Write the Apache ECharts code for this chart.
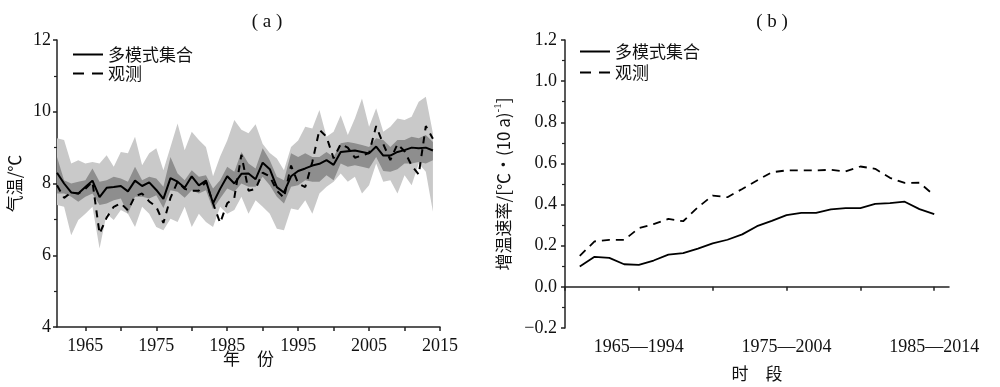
<!DOCTYPE html>
<html><head><meta charset="utf-8">
<script src="https://cdn.jsdelivr.net/npm/echarts@6/dist/echarts.min.js"></script>
<style>html,body{margin:0;padding:0;background:#fff}#c{width:1000px;height:387px}</style>
</head><body><div id="c"></div>
<script>
// ---------- Panel (a) data: annual mean temperature (°C), 1961-2014 ----------
const years = [1961,1962,1963,1964,1965,1966,1967,1968,1969,1970,1971,1972,1973,1974,1975,1976,1977,1978,1979,1980,
  1981,1982,1983,1984,1985,1986,1987,1988,1989,1990,1991,1992,1993,1994,1995,1996,1997,1998,1999,2000,
  2001,2002,2003,2004,2005,2006,2007,2008,2009,2010,2011,2012,2013,2014];
const ensembleMean = [8.30,8.00,7.75,7.72,7.90,8.08,7.62,7.88,7.90,7.93,7.78,8.08,7.93,8.03,7.82,7.57,8.15,8.05,7.88,8.20,
  7.95,8.08,7.45,7.85,8.20,8.00,8.27,8.28,8.12,8.58,8.40,7.90,7.75,8.20,8.35,8.42,8.50,8.55,8.65,8.52,
  8.88,8.90,8.92,8.88,8.84,9.03,8.78,8.78,8.88,8.93,9.00,8.98,9.00,8.92];
const observed = [7.95,7.60,7.75,7.72,7.85,8.05,6.60,7.05,7.35,7.45,7.25,7.65,7.72,7.50,7.35,6.90,7.60,8.05,7.85,7.80,
  7.80,8.05,7.45,6.90,7.45,7.60,8.80,7.80,7.85,8.30,8.20,7.80,7.60,8.50,8.00,7.90,8.60,9.50,9.30,8.70,
  9.10,9.00,8.72,8.78,8.85,9.60,9.10,8.65,9.10,8.90,8.50,8.25,9.60,9.25];
const darkUpper = [8.74,8.09,8.00,8.05,8.09,8.42,8.05,8.09,8.19,8.14,8.05,8.47,8.09,8.19,8.14,7.91,8.74,8.28,8.09,8.37,
  8.19,8.23,7.86,8.09,8.47,8.33,8.88,8.56,8.42,8.98,8.65,8.19,8.09,8.84,8.74,8.84,8.74,8.74,8.88,8.74,
  9.12,9.16,9.12,9.07,9.02,9.26,9.21,9.02,9.21,9.21,9.30,9.26,9.35,9.16];
const darkLower = [7.72,7.72,7.63,7.49,7.63,7.72,7.40,7.44,7.53,7.58,7.16,7.63,7.63,7.58,7.67,7.32,7.81,7.77,7.60,7.81,
  7.72,7.81,7.28,7.58,7.86,7.77,8.00,7.91,7.91,8.19,7.95,7.63,7.44,7.91,7.95,8.09,8.05,8.05,8.23,8.09,
  8.56,8.47,8.51,8.47,8.42,8.74,8.35,8.33,8.40,8.56,8.56,8.60,8.56,8.65];
const lightUpper = [9.26,9.21,8.56,8.65,8.56,8.60,8.56,8.79,8.47,8.88,8.84,9.30,8.51,8.84,8.98,8.37,9.02,9.67,8.93,9.44,
  9.21,9.02,8.20,8.75,9.20,9.77,9.50,9.40,9.65,9.10,8.85,8.70,8.37,9.02,9.20,9.58,9.53,10.05,9.30,9.44,
  9.90,9.35,9.81,10.37,9.58,10.10,9.44,9.58,9.81,9.77,9.86,10.28,10.42,9.40];
const lightLower = [7.40,7.35,6.56,6.98,7.16,7.35,6.19,7.16,6.98,7.26,7.16,6.79,7.35,7.16,6.79,6.70,7.02,6.93,7.35,6.79,
  7.16,6.93,6.79,7.35,7.16,7.26,7.63,7.16,7.53,7.35,7.16,6.74,6.70,7.30,7.26,7.53,7.16,7.72,7.91,8.05,
  8.28,8.05,8.19,7.72,7.95,8.56,8.05,8.09,7.72,8.23,7.95,8.56,8.33,7.21];
const yearTicks = [1965,1970,1975,1980,1985,1990,1995,2000,2005,2010,2015];
const yearLabels = [1965,1975,1985,1995,2005,2015];

// ---------- Panel (b) data: warming rate over 30-yr windows ----------
const periodStarts = [1961,1962,1963,1964,1965,1966,1967,1968,1969,1970,1971,1972,1973,1974,1975,1976,1977,1978,1979,1980,
  1981,1982,1983,1984,1985];
const ensembleRate = [0.099,0.146,0.141,0.110,0.107,0.128,0.157,0.164,0.186,0.211,0.229,0.255,0.295,0.321,0.349,0.360,0.360,0.377,0.383,0.383,
  0.403,0.407,0.414,0.378,0.354];
const observedRate = [0.151,0.221,0.228,0.228,0.285,0.305,0.330,0.319,0.387,0.444,0.436,0.476,0.517,0.557,0.566,0.566,0.566,0.569,0.561,0.585,
  0.574,0.530,0.505,0.506,0.445];
const periodTicks = [1960,1965,1970,1975,1980,1985];
const periodLabelStarts = [1965,1975,1985];
const periodLabels = ['1965—1994','1975—2004','1985—2014'];

const NAME_MEAN = '多模式集合', NAME_OBS = '观测';
const SERIF = '"Liberation Serif","Times New Roman","DejaVu Serif","Noto Sans CJK SC",serif';
const CJK = '"Noto Sans CJK SC","Liberation Serif",sans-serif';
const INK = '#111';
const AXIS = '#222';

const pairs = (xs, ys) => xs.map((x, i) => [x, ys[i]]);

function axisCommon() {
  return {
    axisLine: {show: true, lineStyle: {color: AXIS, width: 1.5}},
    axisTick: {show: true, inside: false, length: 4, lineStyle: {color: AXIS, width: 1.5}},
    splitLine: {show: false},
    axisLabel: {color: INK, fontFamily: SERIF, fontSize: 18},
    nameMoveOverlap: false,
    nameTextStyle: {color: INK, fontFamily: CJK, fontSize: 17}
  };
}

// band polygon drawn through the axis scales (api.coord)
function bandSeries(name, upper, lower, color, z) {
  return {
    type: 'custom', name: name, xAxisIndex: 0, yAxisIndex: 0, silent: true, z: z,
    data: years.map((y, i) => [y, lower[i], upper[i]]),
    encode: {x: 0, y: [1, 2]},
    renderItem: function (params, api) {
      if (params.dataIndex !== 0) return null;
      const pts = [];
      for (let i = 0; i < years.length; i++) pts.push(api.coord([years[i], upper[i]]));
      for (let i = years.length - 1; i >= 0; i--) pts.push(api.coord([years[i], lower[i]]));
      return {type: 'polygon', shape: {points: pts}, style: {fill: color, stroke: null}};
    }
  };
}

const chart = echarts.init(document.getElementById('c'), null, {renderer: 'canvas'});

const xA = axisCommon();
Object.assign(xA, {
  type: 'value', gridIndex: 0, min: 1961, max: 2015,
  name: '年　份', nameLocation: 'middle', nameGap: 23
});
xA.axisTick = Object.assign({}, xA.axisTick, {customValues: yearTicks});
xA.axisLabel = Object.assign({}, xA.axisLabel, {customValues: yearLabels, margin: 10, formatter: v => String(v)});

const yA = axisCommon();
Object.assign(yA, {
  type: 'value', gridIndex: 0, min: 4, max: 12, interval: 2,
  name: '气温/℃', nameLocation: 'middle', nameGap: 34,
  minorTick: {show: true, splitNumber: 2, length: 3, lineStyle: {color: AXIS, width: 1.2}},
  minorSplitLine: {show: false}
});
yA.axisLabel = Object.assign({}, yA.axisLabel, {margin: 6});

const xB = axisCommon();
Object.assign(xB, {
  type: 'value', gridIndex: 1, min: 1960, max: 1986,
  name: '时　段', nameLocation: 'middle', nameGap: 37
});
xB.axisTick = Object.assign({}, xB.axisTick, {customValues: periodTicks});
xB.axisLabel = Object.assign({}, xB.axisLabel, {
  customValues: periodLabelStarts, margin: 10,
  formatter: v => { const i = periodLabelStarts.indexOf(Math.round(v)); return i >= 0 ? periodLabels[i] : ''; }
});

const yB = axisCommon();
Object.assign(yB, {
  type: 'value', gridIndex: 1, min: -0.2, max: 1.2, interval: 0.2,
  name: '{n|增温速率/[℃·(10 a)}{s|-1}{n|]}', nameLocation: 'middle', nameGap: 50,
  minorTick: {show: true, splitNumber: 2, length: 3, lineStyle: {color: AXIS, width: 1.2}},
  minorSplitLine: {show: false}
});
yB.axisLabel = Object.assign({}, yB.axisLabel, {margin: 8, formatter: v => v.toFixed(1).replace('-', '−')});
yB.nameTextStyle = {
  color: INK, fontFamily: CJK, fontSize: 17,
  rich: {
    n: {fontFamily: CJK, fontSize: 17, color: INK, lineHeight: 22},
    s: {fontFamily: SERIF, fontSize: 11, color: INK, lineHeight: 22, verticalAlign: 'top', padding: [0, 0, 8, 0]}
  }
};

const SOLID_ICON = 'rect';
const DASH_ICON = 'path://M0,0h11v2h-11zM19,0h11v2h-11z';
function legendAt(left, top, gap) {
  return {
    left: left, top: top, orient: 'vertical', itemWidth: 30, itemHeight: 2, itemGap: gap,
    selectedMode: false,
    data: [
      {name: NAME_MEAN, icon: SOLID_ICON, itemStyle: {color: '#000'}},
      {name: NAME_OBS, icon: DASH_ICON, itemStyle: {color: '#000'}}
    ],
    textStyle: {fontSize: 17, fontFamily: CJK, color: INK}
  };
}

const option = {
  animation: false,
  backgroundColor: '#fff',
  title: [
    {text: '( a )', left: 262, top: 8, textAlign: 'center',
      textStyle: {fontFamily: SERIF, fontSize: 19, fontWeight: 'normal', color: INK}},
    {text: '( b )', left: 767, top: 8, textAlign: 'center',
      textStyle: {fontFamily: SERIF, fontSize: 19, fontWeight: 'normal', color: INK}}
  ],
  legend: [legendAt(68, 41, 2), legendAt(575, 38, 4)],
  grid: [
    {left: 57, top: 40, right: 560, bottom: 60},
    {left: 565, top: 40, right: 51, bottom: 59}
  ],
  xAxis: [xA, xB],
  yAxis: [yA, yB],
  series: [
    bandSeries('lightBand', lightUpper, lightLower, '#c9c9c9', 1),
    bandSeries('darkBand', darkUpper, darkLower, '#8e8e8e', 2),
    {type: 'line', name: NAME_OBS, xAxisIndex: 0, yAxisIndex: 0, symbol: 'none',
      lineStyle: {color: '#000', width: 2, type: [7, 6]}, itemStyle: {color: '#000'},
      data: pairs(years, observed), z: 3},
    {type: 'line', name: NAME_MEAN, xAxisIndex: 0, yAxisIndex: 0, symbol: 'none',
      lineStyle: {color: '#000', width: 2}, itemStyle: {color: '#000'},
      data: pairs(years, ensembleMean), z: 4},
    {type: 'line', name: NAME_OBS, xAxisIndex: 1, yAxisIndex: 1, symbol: 'none',
      lineStyle: {color: '#000', width: 1.8, type: [8, 6]}, itemStyle: {color: '#000'},
      data: pairs(periodStarts, observedRate), z: 3},
    {type: 'line', name: NAME_MEAN, xAxisIndex: 1, yAxisIndex: 1, symbol: 'none',
      lineStyle: {color: '#000', width: 1.8}, itemStyle: {color: '#000'},
      data: pairs(periodStarts, ensembleRate), z: 4}
  ]
};
chart.setOption(option);
</script></body></html>
